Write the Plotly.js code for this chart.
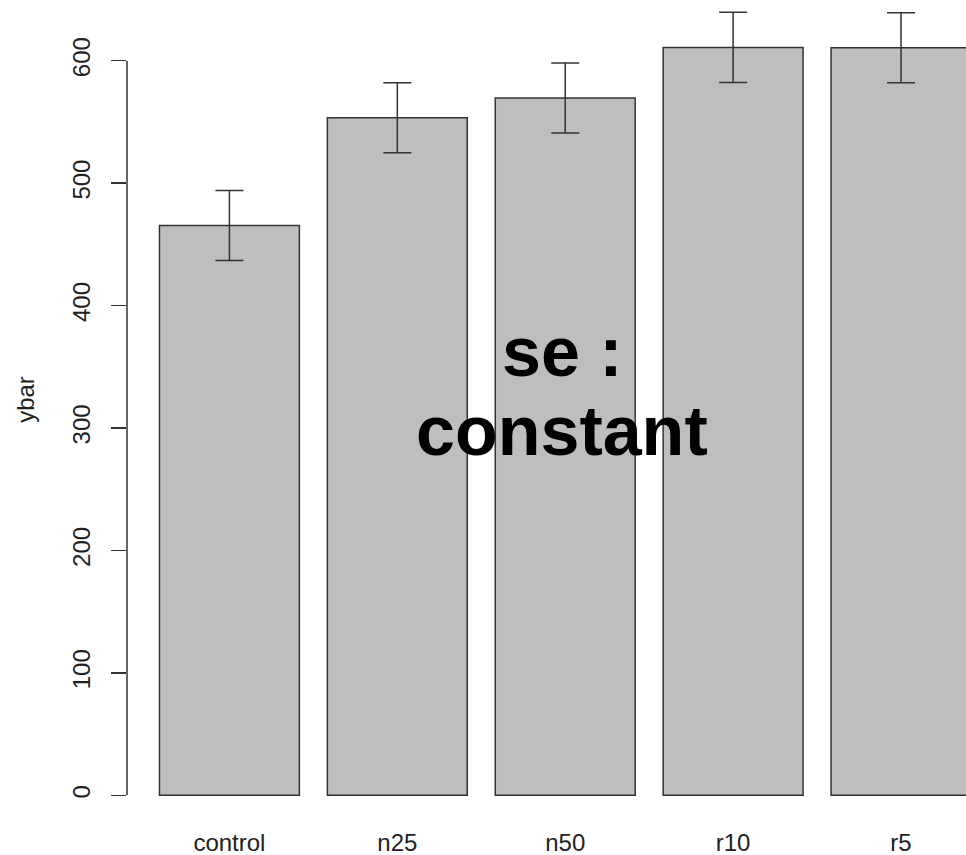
<!DOCTYPE html>
<html>
<head>
<meta charset="utf-8">
<script src="https://cdn.plot.ly/plotly-3.0.1.min.js"></script>
<style>html,body{margin:0;padding:0;background:#fff;}#chart{width:966px;height:855px;}</style>
</head>
<body>
<div id="chart"></div>
<script>
const categories = ["control", "n25", "n50", "r10", "r5"];
const ybar = [465.4, 553.5, 569.6, 610.9, 610.6];
const se = [28.6, 28.6, 28.6, 28.6, 28.6];
const yTickVals = [0, 100, 200, 300, 400, 500, 600];
const annotationLines = ["se :", "constant"];

const trace = {
  type: "bar",
  x: categories,
  y: ybar,
  width: 1 / 1.2,
  marker: {color: "#bebebe", line: {color: "#333333", width: 1.5}},
  error_y: {type: "data", array: se, visible: true, color: "#333333", thickness: 1.5, width: 14},
  hoverinfo: "none"
};

const plotH = 799;
const linePix = [352, 431];

const layout = {
  width: 966,
  height: 855,
  margin: {l: 127, r: 0, t: 0, b: 56},
  paper_bgcolor: "#ffffff",
  plot_bgcolor: "#ffffff",
  showlegend: false,
  font: {family: "Liberation Sans, Arial, sans-serif", color: "#000000", size: 24},
  xaxis: {
    type: "category",
    range: [-0.61, 4.387],
    showline: false,
    showgrid: false,
    zeroline: false,
    ticks: "",
    ticklabelstandoff: 27,
    tickfont: {size: 24, color: "#222222"}
  },
  yaxis: {
    range: [-3.0, 649.6],
    tickvals: yTickVals,
    ticktext: yTickVals.map(String),
    tickangle: -90,
    ticks: "outside",
    ticklen: 15,
    tickwidth: 1.5,
    tickcolor: "#333333",
    ticklabelstandoff: 11,
    showline: false,
    showgrid: false,
    zeroline: false,
    tickfont: {size: 24, color: "#222222"},
    title: {text: "ybar", font: {size: 24, color: "#222222"}, standoff: 27}
  },
  shapes: [{
    type: "line", xref: "paper", yref: "y",
    x0: 0, x1: 0, y0: yTickVals[0], y1: yTickVals[yTickVals.length - 1],
    line: {color: "#333333", width: 1.5}
  }],
  annotations: annotationLines.map((t, i) => ({
    xref: "paper", yref: "paper",
    x: 0.519, y: (plotH - linePix[i]) / plotH,
    xanchor: "center", yanchor: "middle",
    text: t,
    showarrow: false,
    font: {family: "Liberation Sans, Arial, sans-serif", size: 70, color: "#000000", weight: "bold"}
  }))
};

Plotly.newPlot("chart", [trace], layout, {displayModeBar: false, staticPlot: true});
</script>
</body>
</html>
